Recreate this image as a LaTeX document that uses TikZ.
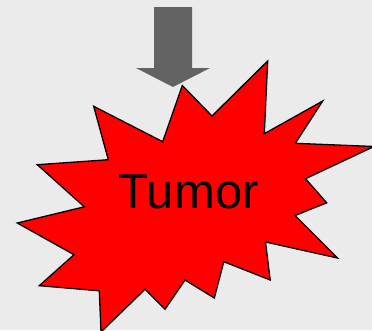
\documentclass[tikz,border=0pt]{standalone}
\usepackage{fontspec}
\setmainfont{Liberation Sans}
\definecolor{bg}{HTML}{EBEBEB}
\definecolor{arrowgray}{HTML}{636363}
\definecolor{tumorred}{HTML}{FF0000}
\tikzset{
  burst/.style={fill=tumorred, draw=black, line width=1.3pt, line join=miter},
  bigarrow/.style={fill=arrowgray, draw=none},
  label/.style={font=\fontsize{49}{56}\selectfont, text=black, inner sep=0pt, anchor=base}
}
\begin{document}
\begin{tikzpicture}[x=1pt,y=-1pt]
\useasboundingbox (0,0) rectangle (372,330);
\fill[bg] (0,0) rectangle (372,330);
\begin{scope}
\clip (0,0) rectangle (372,330);
% arrow
\fill[bigarrow] (154,7) -- (192,7) -- (192,68) -- (210,68) -- (173,87) -- (136,68) -- (154,68) -- cycle;
% burst
\draw[burst] (182.3,85.5) -- (212,116) -- (267.7,61) -- (264.3,133.7) -- (322.7,101) -- (295.3,143.3)
  -- (374,146.5) -- (305.5,178.7) -- (326.7,202.8) -- (295,215.5) -- (337.5,258)
  -- (265.5,242) -- (270.2,280) -- (223.8,261.7) -- (214.3,298) -- (185,280)
  -- (165,309.3) -- (145,289.3) -- (101,332) -- (99.3,290.8) -- (39.3,285.7)
  -- (74,254.7) -- (17.3,223) -- (84.3,206.8) -- (37.3,164.7) -- (108.3,159.7)
  -- (93.7,106.3) -- (162.7,141.7) -- cycle;
\end{scope}
\node[label] (tumor) at (188.7,208.3) {Tumor};
\end{tikzpicture}
\end{document}
